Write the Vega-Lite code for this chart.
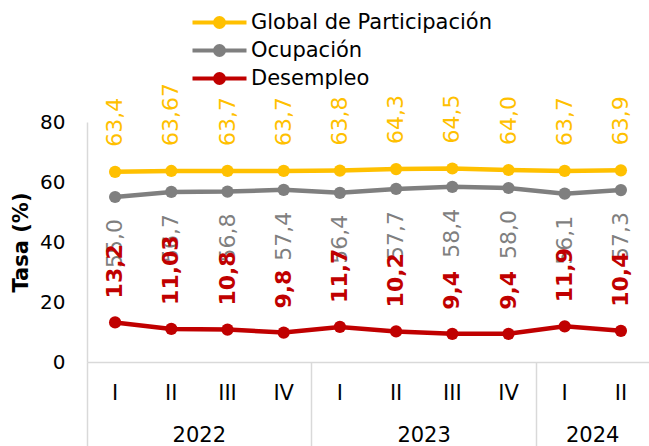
{
  "$schema": "https://vega.github.io/schema/vega-lite/v6.json",
  "width": 562,
  "height": 240,
  "autosize": {"type": "none"},
  "padding": {"left": 87, "top": 122, "right": 0, "bottom": 84},
  "config": {
    "view": {"stroke": null},
    "font": "DejaVu Sans",
    "axis": {"labelFont": "DejaVu Sans", "titleFont": "DejaVu Sans"}
  },
  "data": {
    "values": [
      {"periodo": "2022-I", "serie": "Global de Participación", "valor": 63.4, "etiqueta": "63,4"},
      {"periodo": "2022-II", "serie": "Global de Participación", "valor": 63.67, "etiqueta": "63,67"},
      {"periodo": "2022-III", "serie": "Global de Participación", "valor": 63.7, "etiqueta": "63,7"},
      {"periodo": "2022-IV", "serie": "Global de Participación", "valor": 63.7, "etiqueta": "63,7"},
      {"periodo": "2023-I", "serie": "Global de Participación", "valor": 63.8, "etiqueta": "63,8"},
      {"periodo": "2023-II", "serie": "Global de Participación", "valor": 64.3, "etiqueta": "64,3"},
      {"periodo": "2023-III", "serie": "Global de Participación", "valor": 64.5, "etiqueta": "64,5"},
      {"periodo": "2023-IV", "serie": "Global de Participación", "valor": 64.0, "etiqueta": "64,0"},
      {"periodo": "2024-I", "serie": "Global de Participación", "valor": 63.7, "etiqueta": "63,7"},
      {"periodo": "2024-II", "serie": "Global de Participación", "valor": 63.9, "etiqueta": "63,9"},
      {"periodo": "2022-I", "serie": "Ocupación", "valor": 55.0, "etiqueta": "55,0"},
      {"periodo": "2022-II", "serie": "Ocupación", "valor": 56.7, "etiqueta": "56,7"},
      {"periodo": "2022-III", "serie": "Ocupación", "valor": 56.8, "etiqueta": "56,8"},
      {"periodo": "2022-IV", "serie": "Ocupación", "valor": 57.4, "etiqueta": "57,4"},
      {"periodo": "2023-I", "serie": "Ocupación", "valor": 56.4, "etiqueta": "56,4"},
      {"periodo": "2023-II", "serie": "Ocupación", "valor": 57.7, "etiqueta": "57,7"},
      {"periodo": "2023-III", "serie": "Ocupación", "valor": 58.4, "etiqueta": "58,4"},
      {"periodo": "2023-IV", "serie": "Ocupación", "valor": 58.0, "etiqueta": "58,0"},
      {"periodo": "2024-I", "serie": "Ocupación", "valor": 56.1, "etiqueta": "56,1"},
      {"periodo": "2024-II", "serie": "Ocupación", "valor": 57.3, "etiqueta": "57,3"},
      {"periodo": "2022-I", "serie": "Desempleo", "valor": 13.2, "etiqueta": "13,2"},
      {"periodo": "2022-II", "serie": "Desempleo", "valor": 11.03, "etiqueta": "11,03"},
      {"periodo": "2022-III", "serie": "Desempleo", "valor": 10.8, "etiqueta": "10,8"},
      {"periodo": "2022-IV", "serie": "Desempleo", "valor": 9.8, "etiqueta": "9,8"},
      {"periodo": "2023-I", "serie": "Desempleo", "valor": 11.7, "etiqueta": "11,7"},
      {"periodo": "2023-II", "serie": "Desempleo", "valor": 10.2, "etiqueta": "10,2"},
      {"periodo": "2023-III", "serie": "Desempleo", "valor": 9.4, "etiqueta": "9,4"},
      {"periodo": "2023-IV", "serie": "Desempleo", "valor": 9.4, "etiqueta": "9,4"},
      {"periodo": "2024-I", "serie": "Desempleo", "valor": 11.9, "etiqueta": "11,9"},
      {"periodo": "2024-II", "serie": "Desempleo", "valor": 10.4, "etiqueta": "10,4"}
    ]
  },
  "layer": [
    {
      "encoding": {
        "x": {
          "field": "periodo", "type": "ordinal", "sort": null,
          "scale": {"type": "band", "paddingInner": 0, "paddingOuter": 0},
          "axis": {
            "orient": "bottom", "title": null, "ticks": false, "domainColor": "#D9D9D9", "domainWidth": 1.5,
            "labelExpr": "split(datum.value, '-')[1]", "labelFontSize": 21,
            "labelPadding": 20, "labelAngle": 0, "labelColor": "black"
          }
        },
        "y": {
          "field": "valor", "type": "quantitative",
          "scale": {"domain": [0, 80]},
          "axis": {
            "values": [0, 20, 40, 60, 80], "grid": false, "ticks": false,
            "domainColor": "#D9D9D9", "domainWidth": 1.5,
            "labelFontSize": 20, "labelPadding": 22, "labelColor": "black",
            "title": "Tasa (%)", "titleFontSize": 21, "titleFontWeight": "bold",
            "titlePadding": 8, "titleColor": "black"
          }
        }
      },
      "layer": [
        {
          "mark": {"type": "line", "strokeWidth": 4.5, "point": {"filled": true, "size": 150, "opacity": 1}},
          "encoding": {
            "color": {
              "field": "serie", "type": "nominal", "sort": null,
              "scale": {"domain": ["Global de Participación", "Ocupación", "Desempleo"], "range": ["#FFC000", "#7F7F7F", "#C00000"]},
              "legend": {
                "orient": "none", "legendX": 122, "legendY": -110, "title": null,
                "symbolType": "M-4.5,0H4.5M0.75,0A0.75,0.75,0,1,1,-0.75,0A0.75,0.75,0,1,1,0.75,0Z",
                "symbolSize": 144, "symbolStrokeWidth": 4,
                "labelFontSize": 21, "labelFont": "DejaVu Sans", "labelColor": "black", "labelLimit": 400,
                "labelOffset": 21, "rowPadding": 3, "padding": 0,
                "encode": {"symbols": {"update": {"fill": {"scale": "color", "field": "value"}, "stroke": {"scale": "color", "field": "value"}}}}
              }
            }
          }
        },
        {
          "transform": [{"filter": "datum.serie === 'Global de Participación'"}],
          "mark": {"type": "text", "angle": 270, "align": "left", "baseline": "middle", "dx": 25, "fontSize": 22, "color": "#FFC000"},
          "encoding": {"text": {"field": "etiqueta"}}
        },
        {
          "transform": [{"filter": "datum.serie === 'Ocupación'"}],
          "mark": {"type": "text", "angle": 270, "align": "right", "baseline": "middle", "dx": -22, "fontSize": 22, "color": "#7F7F7F"},
          "encoding": {"text": {"field": "etiqueta"}}
        },
        {
          "transform": [{"filter": "datum.serie === 'Desempleo'"}],
          "mark": {"type": "text", "angle": 270, "align": "left", "baseline": "middle", "dx": 24, "fontSize": 22, "fontWeight": "bold", "color": "#C00000"},
          "encoding": {"text": {"field": "etiqueta"}}
        }
      ]
    },
    {
      "mark": {"type": "point", "opacity": 0},
      "encoding": {
        "x": {
          "field": "periodo", "type": "ordinal", "sort": null,
          "scale": {"type": "band", "paddingInner": 0, "paddingOuter": 0},
          "axis": {
            "orient": "bottom",
            "values": ["2022-II", "2023-II", "2024-I"], "labelExpr": "slice(datum.value, 0, 4)",
            "labelOffset": 28, "ticks": false, "domain": false, "labelPadding": 62,
            "title": null, "labelAngle": 0, "labelFontSize": 21, "labelColor": "black"
          }
        }
      }
    },
    {
      "mark": {"type": "point", "opacity": 0},
      "encoding": {
        "x": {
          "field": "periodo", "type": "ordinal", "sort": null,
          "scale": {"type": "band", "paddingInner": 0, "paddingOuter": 0},
          "axis": {
            "orient": "bottom",
            "values": ["2022-I", "2023-I", "2024-I"], "bandPosition": 0,
            "ticks": true, "tickSize": 90, "tickColor": "#D9D9D9", "tickWidth": 1.5,
            "labels": false, "domain": false, "title": null
          }
        }
      }
    }
  ],
  "resolve": {"axis": {"x": "independent"}}
}
